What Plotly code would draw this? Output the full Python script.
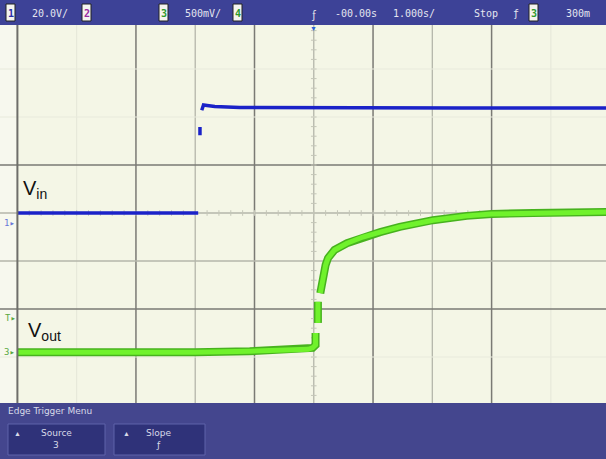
import plotly.graph_objects as go

W, H = 606, 459

# time axis in divisions (1 div per graticule square), voltage in divisions
vin_x = [-4.99, -1.95]
vin_y = [0.0, 0.0]
vin_edge_x = [-1.92, -1.92]
vin_edge_y = [1.62, 1.79]
vin_hi_x = [-1.89, -1.86, -1.80, -1.67, -1.25, 0.5, 2.5, 4.95]
vin_hi_y = [2.14, 2.25, 2.24, 2.22, 2.20, 2.19, 2.19, 2.19]

vout_x = [-4.99, -3.5, -2.0, -1.08, -0.40, -0.10, -0.02, 0.03, 0.03]
vout_y = [-2.90, -2.91, -2.90, -2.88, -2.86, -2.84, -2.81, -2.75, -2.50]
vout_mid_x = [0.07, 0.07]
vout_mid_y = [-2.29, -1.85]
vout_rise_x = [0.11, 0.15, 0.20, 0.24, 0.35, 0.56, 0.83, 1.12, 1.45, 2.01, 2.58, 3.0, 3.70, 4.27, 4.95]
vout_rise_y = [-1.67, -1.33, -1.08, -0.94, -0.77, -0.63, -0.50, -0.40, -0.29, -0.15, -0.06, -0.02, 0.0, 0.01, 0.02]

grid_x_dark = [-3, -1, 1, 3]
grid_x_light = [-2, 0, 2]
grid_x_faint = [-4, 4]
grid_y_dark = [1, -2]
grid_y_light = [0, -1]
grid_y_faint = [3, 2, -3]

top_labels = [("20.0V/", 30), ("500mV/", 183), ("-00.00s", 333), ("1.000s/", 391), ("Stop", 472), ("ƒ", 511), ("300m", 564)]
top_boxes = [("1", 10, "#2a2fa8"), ("2", 86, "#9a2aa0"), ("3", 163, "#2c9a2c"), ("4", 237, "#2c9a2c"), ("3", 533, "#2c9a2c")]

X0, X1 = 17.4, 606.0
Y0, Y1 = 21.0, 405.0
xdom = [X0 / W, X1 / W]
ydom = [1 - Y1 / H, 1 - Y0 / H]


def px(x):
    return x / W


def py(y):
    return 1 - y / H


fig = go.Figure()

# center graticule ticks
ticks = [i / 5 for i in range(-25, 25)]
fig.add_trace(go.Scatter(x=ticks, y=[0] * len(ticks), mode="markers",
                         marker=dict(symbol="line-ns-open", size=4, color="#c4c6b8", line=dict(width=1)),
                         hoverinfo="skip", showlegend=False))
vt = [i / 5 for i in range(-20, 21)]
fig.add_trace(go.Scatter(x=[0] * len(vt), y=vt, mode="markers",
                         marker=dict(symbol="line-ew-open", size=4, color="#c4c6b8", line=dict(width=1)),
                         hoverinfo="skip", showlegend=False))

blue = "#1a22c8"
for xs, ys in [(vin_x, vin_y), (vin_edge_x, vin_edge_y), (vin_hi_x, vin_hi_y)]:
    fig.add_trace(go.Scatter(x=xs, y=ys, mode="lines", line=dict(color=blue, width=3.5),
                             hoverinfo="skip", showlegend=False))

for xs, ys in [(vout_x, vout_y), (vout_mid_x, vout_mid_y), (vout_rise_x, vout_rise_y)]:
    fig.add_trace(go.Scatter(x=xs, y=ys, mode="lines", line=dict(color="#47b21e", width=8),
                             hoverinfo="skip", showlegend=False))
    fig.add_trace(go.Scatter(x=xs, y=ys, mode="lines", line=dict(color="#70f22c", width=5),
                             hoverinfo="skip", showlegend=False))

shapes = []
for v in grid_x_dark:
    shapes.append(dict(type="line", xref="x", yref="paper", x0=v, x1=v, y0=0, y1=1, layer="below",
                       line=dict(color="#7a7a74", width=1.5)))
for v in grid_x_light:
    shapes.append(dict(type="line", xref="x", yref="paper", x0=v, x1=v, y0=0, y1=1, layer="below",
                       line=dict(color="#b4b6aa", width=1.3)))
for v in grid_x_faint:
    shapes.append(dict(type="line", xref="x", yref="paper", x0=v, x1=v, y0=0, y1=1, layer="below",
                       line=dict(color="#e4e6d8", width=1)))
for v in grid_y_dark:
    shapes.append(dict(type="line", xref="paper", yref="y", x0=0, x1=1, y0=v, y1=v, layer="below",
                       line=dict(color="#7a7a74", width=1.5)))
for v in grid_y_light:
    shapes.append(dict(type="line", xref="paper", yref="y", x0=0, x1=1, y0=v, y1=v, layer="below",
                       line=dict(color="#b4b6aa", width=1.3)))
for v in grid_y_faint:
    shapes.append(dict(type="line", xref="paper", yref="y", x0=0, x1=1, y0=v, y1=v, layer="below",
                       line=dict(color="#e8eadc", width=1)))
# left border of graticule
shapes.append(dict(type="line", xref="paper", yref="paper", x0=xdom[0], x1=xdom[0], y0=0.11, y1=0.96,
                   line=dict(color="#6e6e6a", width=2)))

# top status bar and bottom menu
shapes.append(dict(type="rect", xref="paper", yref="paper", x0=0, x1=1, y0=py(25), y1=1,
                   fillcolor="#3d4297", line=dict(width=0)))
shapes.append(dict(type="rect", xref="paper", yref="paper", x0=0, x1=1, y0=0, y1=py(403),
                   fillcolor="#44468e", line=dict(width=0)))
for a, b in [(8, 105), (114, 205)]:
    shapes.append(dict(type="rect", xref="paper", yref="paper", x0=px(a), x1=px(b), y0=py(455), y1=py(424),
                       fillcolor="#2f3279", line=dict(color="#5f62aa", width=1)))
for t, x, c in top_boxes:
    shapes.append(dict(type="rect", xref="paper", yref="paper", x0=px(x - 4), x1=px(x + 5), y0=py(21), y1=py(4),
                       fillcolor="#f4f4f0", line=dict(color="#222", width=1)))

ann = []
bar_font = dict(family="DejaVu Sans Mono", size=10, color="#e4e6f0")
for t, x in top_labels:
    ann.append(dict(text=t, x=px(x), y=py(13), xref="paper", yref="paper", xanchor="left", yanchor="middle",
                    showarrow=False, font=bar_font))
for t, x, c in top_boxes:
    ann.append(dict(text="<b>" + t + "</b>", x=px(x + 0.5), y=py(13), xref="paper", yref="paper",
                    xanchor="center", yanchor="middle", showarrow=False,
                    font=dict(family="DejaVu Sans Mono", size=10, color=c)))
# trigger position marker
ann.append(dict(text="ƒ", x=0, y=py(14), xref="x", yref="paper", xanchor="center", yanchor="middle",
                showarrow=False, font=dict(size=10, color="#f0f0f0")))
ann.append(dict(text="▼", x=0, y=py(28), xref="x", yref="paper", xanchor="center", yanchor="middle",
                showarrow=False, font=dict(size=7, color="#2a62d8")))

# channel ground markers
ann.append(dict(text="1▸", x=px(2), y=py(223), xref="paper", yref="paper", xanchor="left", yanchor="middle",
                showarrow=False, font=dict(family="DejaVu Sans Mono", size=9, color="#6a78d8")))
ann.append(dict(text="T▸", x=px(3), y=py(318), xref="paper", yref="paper", xanchor="left", yanchor="middle",
                showarrow=False, font=dict(family="DejaVu Sans Mono", size=9, color="#5aa842")))
ann.append(dict(text="3▸", x=px(2), y=py(352), xref="paper", yref="paper", xanchor="left", yanchor="middle",
                showarrow=False, font=dict(family="DejaVu Sans Mono", size=9, color="#5aa842")))

lab_font = dict(family="Liberation Sans, Arial", size=20, color="#111111")
ann.append(dict(text="V<sub>in</sub>", x=px(21), y=py(189), xref="paper", yref="paper", xanchor="left",
                yanchor="middle", showarrow=False, font=lab_font))
ann.append(dict(text="V<sub>out</sub>", x=px(26), y=py(331), xref="paper", yref="paper", xanchor="left",
                yanchor="middle", showarrow=False, font=lab_font))

menu_font = dict(family="DejaVu Sans", size=9, color="#d8dae8")
ann.append(dict(text="Edge Trigger Menu", x=px(6), y=py(411), xref="paper", yref="paper", xanchor="left",
                yanchor="middle", showarrow=False, font=menu_font))
for tri_x, name, name_x, val, val_x in [(17, "Source", 56, "3", 56), (126, "Slope", 158, "ƒ", 158)]:
    ann.append(dict(text="▲", x=px(tri_x), y=py(433), xref="paper", yref="paper", xanchor="center",
                    yanchor="middle", showarrow=False, font=dict(size=7, color="#d8dae8")))
    ann.append(dict(text=name, x=px(name_x), y=py(433), xref="paper", yref="paper", xanchor="center",
                    yanchor="middle", showarrow=False, font=menu_font))
    ann.append(dict(text=val, x=px(val_x), y=py(445), xref="paper", yref="paper", xanchor="center",
                    yanchor="middle", showarrow=False, font=menu_font))

fig.update_layout(
    width=W, height=H,
    margin=dict(l=0, r=0, t=0, b=0, pad=0),
    paper_bgcolor="#f7f8ee",
    plot_bgcolor="#f4f6e6",
    showlegend=False,
    xaxis=dict(domain=xdom, range=[-5, 4.93], showgrid=False, zeroline=False,
               showticklabels=False, ticks=""),
    yaxis=dict(domain=ydom, range=[-4, 4], showgrid=False, zeroline=False, showticklabels=False, ticks=""),
    shapes=shapes,
    annotations=ann,
)

fig.write_html("out.html", config={"displayModeBar": False},
               post_script="document.body.style.margin='0';")
